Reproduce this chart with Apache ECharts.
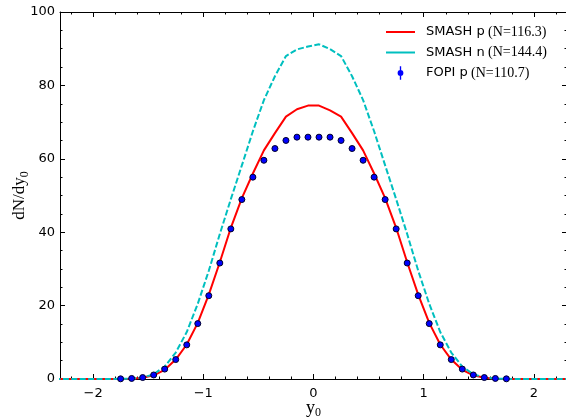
<!DOCTYPE html>
<html><head><meta charset="utf-8">
<script src="https://cdn.jsdelivr.net/npm/echarts@6/dist/echarts.min.js"></script>
<style>html,body{margin:0;padding:0;background:#fff}#c{width:566px;height:419px}</style>
</head><body><div id="c"></div>
<script>
// rapidity grid for the SMASH curves
const curveX = [-2.35,-2.25,-2.15,-2.05,-1.95,-1.85,-1.75,-1.65,-1.55,-1.45,-1.35,-1.25,-1.15,-1.05,-0.95,-0.85,-0.75,-0.65,-0.55,-0.45,-0.35,-0.25,-0.15,-0.05,
                0.05,0.15,0.25,0.35,0.45,0.55,0.65,0.75,0.85,0.95,1.05,1.15,1.25,1.35,1.45,1.55,1.65,1.75,1.85,1.95,2.05,2.15,2.25,2.35];
const smashP = [0,0,0,0,0,0.01,0.03,0.1,0.35,1.0,2.5,5.3,9.4,15.3,23.0,31.8,41.2,49.3,56.0,62.3,67.0,71.5,73.5,74.5,
                74.5,73.2,71.5,67.0,62.3,56.0,49.3,41.2,31.8,23.0,15.3,9.4,5.3,2.5,1.0,0.35,0.1,0.03,0.01,0,0,0,0,0];
const smashN = [0,0,0,0,0,0.01,0.04,0.12,0.4,1.3,3.4,7.2,12.8,20.5,29.5,39.5,49.0,58.2,67.5,76.0,82.5,88.0,89.8,90.6,
                91.2,89.9,88.0,82.5,76.0,67.5,58.2,49.0,39.5,29.5,20.5,12.8,7.2,3.4,1.3,0.4,0.12,0.04,0.01,0,0,0,0,0];
// FOPI data points
const fopiX = [-1.75,-1.65,-1.55,-1.45,-1.35,-1.25,-1.15,-1.05,-0.95,-0.85,-0.75,-0.65,-0.55,-0.45,-0.35,-0.25,-0.15,-0.05,
               0.05,0.15,0.25,0.35,0.45,0.55,0.65,0.75,0.85,0.95,1.05,1.15,1.25,1.35,1.45,1.55,1.65,1.75];
const fopiP = [0.05,0.15,0.4,1.1,2.7,5.3,9.3,15.1,22.7,31.6,40.9,48.9,55.0,59.6,62.8,65.0,65.9,65.9,
               65.9,65.9,65.0,62.8,59.6,55.0,48.9,40.9,31.6,22.7,15.1,9.3,5.3,2.7,1.1,0.4,0.15,0.05];
const seriesNames = ['SMASH p','SMASH n','FOPI p'];
const seriesN = ['116.3','144.4','110.7'];
const xMajorTicks = [-2,-1,0,1,2];
const xMinorTicks = [-2.2,-1.8,-1.6,-1.4,-1.2,-0.8,-0.6,-0.4,-0.2,0.2,0.4,0.6,0.8,1.2,1.4,1.6,1.8,2.2];
const yTickLabels = [0,20,40,60,80,100];

const chart = echarts.init(document.getElementById('c'), null, {renderer:'canvas'});
const AX = '#000';
const labelFont = {fontFamily:'DejaVu Sans', fontSize:13, color:'#000'};
function xAxisDef(pos, major, showLine, showLabel, extra){
  return Object.assign({
    type:'value', position:pos, min:-2.3, max:2.3, gridIndex:0,
    axisLine:{show:showLine, onZero:false, lineStyle:{color:AX, width:1}},
    axisTick:{show:true, inside:true, length: major?5:2.5, lineStyle:{color:AX, width:1},
              customValues: major?xMajorTicks:xMinorTicks},
    axisLabel:{show:showLabel, customValues:xMajorTicks, margin:8,
               formatter:v=> v<0 ? '\u2212'+Math.abs(v) : String(v), ...labelFont},
    splitLine:{show:false}
  }, extra||{});
}
function yAxisDef(pos, showLabel, extra){
  return Object.assign({
    type:'value', position:pos, min:0, max:100, interval:20,
    axisLine:{show:true, onZero:false, lineStyle:{color:AX, width:1}},
    axisTick:{show:true, inside:true, length:5, lineStyle:{color:AX}},
    minorTick:{show:true, splitNumber:4, length:2.5, lineStyle:{color:AX}},
    axisLabel:{show:showLabel, margin:5, ...labelFont},
    splitLine:{show:false}
  }, extra||{});
}
const subRich = (fs)=>({
  a:{fontFamily:'Liberation Serif', fontSize:fs, lineHeight:22, color:'#000', verticalAlign:'middle'},
  s:{fontFamily:'Liberation Serif', fontSize:12, lineHeight:12, color:'#000', verticalAlign:'bottom'}
});
const lineIcon = 'path://M0,0L0.01,0L0,0.01Z M0,6L30,6L30,8L0,8Z M0,14L0.01,14L0,14.01Z';
const option = {
  animation:false,
  backgroundColor:'#fff',
  grid:{left:60, top:12, width:507, height:367, outerBoundsMode:'none', containLabel:false},
  legend:{
    orient:'vertical', left:386, top:25, itemWidth:29, itemHeight:14, itemGap:6.5, padding:0,
    data:[
      {name:seriesNames[0], icon:lineIcon, itemStyle:{color:'#ff0000', borderWidth:0}},
      {name:seriesNames[1], icon:lineIcon, itemStyle:{color:'#00bfbf', borderWidth:0}},
      {name:seriesNames[2], icon:'path://M0,7L0.01,7L0,7.01Z M30,7L29.99,7L30,7.01Z M14.3,0L15.7,0L15.7,14L14.3,14Z M18,7A3,3 0 1 1 12,7A3,3 0 1 1 18,7Z',
       itemStyle:{color:'#0000ff', borderWidth:0}}
    ],
    formatter: name => '{a|'+name+'} {b|(N='+seriesN[seriesNames.indexOf(name)]+')}',
    textStyle:{rich:{
      a:{fontFamily:'DejaVu Sans', fontSize:13, color:'#000', padding:[0,0,0,6]},
      b:{fontFamily:'Liberation Serif', fontSize:14, color:'#000'}
    }}
  },
  xAxis:[
    xAxisDef('bottom', true, true, true, {
      name:'{a|y}{s|0}', nameLocation:'middle', nameGap:18, nameMoveOverlap:false,
      nameTextStyle:{rich:subRich(18)}
    }),
    xAxisDef('bottom', false, false, false),
    xAxisDef('top', true, true, false),
    xAxisDef('top', false, false, false)
  ],
  yAxis:[
    yAxisDef('left', true, {
      name:'{a|dN/dy}{s|0}', nameLocation:'middle', nameGap:29, nameRotate:90, nameMoveOverlap:false,
      nameTextStyle:{rich:subRich(17)}
    }),
    yAxisDef('right', false)
  ],
  series:[
    {name:seriesNames[0], type:'line', xAxisIndex:0, yAxisIndex:0, symbol:'none', z:3,
     data: curveX.map((x,i)=>[x, smashP[i]]),
     lineStyle:{color:'#ff0000', width:2}, itemStyle:{color:'#ff0000'}},
    {name:seriesNames[1], type:'line', xAxisIndex:0, yAxisIndex:0, symbol:'none', z:4,
     data: curveX.map((x,i)=>[x, smashN[i]]),
     lineStyle:{color:'#00bfbf', width:2, type:[6,2.4]}, itemStyle:{color:'#00bfbf'}},
    {name:seriesNames[2], type:'scatter', xAxisIndex:0, yAxisIndex:0, symbol:'circle', symbolSize:6, z:5,
     data: fopiX.map((x,i)=>[x, fopiP[i]]),
     itemStyle:{color:'#0000ff', borderColor:'#00002a', borderWidth:1, opacity:1}}
  ]
};
chart.setOption(option);
</script>
</body></html>
